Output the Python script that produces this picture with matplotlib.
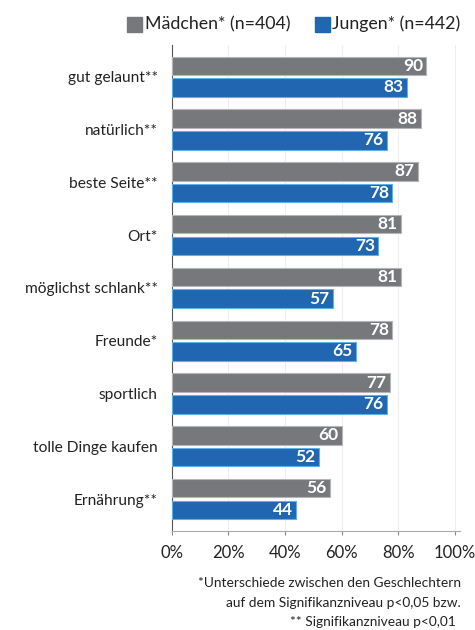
import matplotlib.pyplot as plt
import numpy as np

plt.rcParams['font.family'] = ['Lato', 'DejaVu Sans']

categories = ['gut gelaunt**', 'natürlich**', 'beste Seite**', 'Ort*', 'möglichst schlank**',
              'Freunde*', 'sportlich', 'tolle Dinge kaufen', 'Ernährung**']
maedchen = [90, 88, 87, 81, 81, 78, 77, 60, 56]
jungen = [83, 76, 78, 73, 57, 65, 76, 52, 44]
xticks = [0, 20, 40, 60, 80, 100]

grey = '#77787b'
blue = '#2166b0'

fig = plt.figure(figsize=(4.75, 6.3), dpi=100)
ax = fig.add_axes([0.3615, 0.1576, 0.6065, 0.771])

y = np.arange(len(categories))
h = 0.35
off = 0.205
ax.barh(y - off, maedchen, height=h, color=grey, edgecolor='#b5b6b8', linewidth=0.8, zorder=3)
ax.barh(y + off, jungen, height=h, color=blue, edgecolor='#5fb0e6', linewidth=0.8, zorder=3)

for yi, v in zip(y, maedchen):
    ax.text(v - 1.2, yi - off, str(v), color='white', fontweight='bold', fontsize=12.5,
            ha='right', va='center', zorder=4)
for yi, v in zip(y, jungen):
    ax.text(v - 1.2, yi + off, str(v), color='white', fontweight='bold', fontsize=12.5,
            ha='right', va='center', zorder=4)

ax.set_xlim(0, 101.8)
ax.set_ylim(8.6, -0.6)
ax.set_yticks(y)
ax.set_yticklabels(categories, fontsize=11.2, color='#222222')
ax.set_xticks(xticks)
ax.set_xticklabels([f'{t}%' for t in xticks], fontsize=12, color='#222222')
ax.tick_params(axis='y', length=0, pad=10)
ax.tick_params(axis='x', length=3, color='#888888', pad=7)
ax.grid(axis='x', color='#eeeeee', linewidth=0.8, zorder=0)
for s in ['top', 'right']:
    ax.spines[s].set_visible(False)
ax.spines['left'].set_color('#555555')
ax.spines['bottom'].set_color('#aaaaaa')

# legend
fig.patches.append(plt.Rectangle((127 / 475, 1 - 32 / 630), 15 / 475, 15 / 630,
                                 transform=fig.transFigure, color=grey))
fig.text(145 / 475, 1 - 24 / 630, 'Mädchen* (n=404)', fontsize=12.8, va='center', color='#222222')
fig.patches.append(plt.Rectangle((315 / 475, 1 - 32 / 630), 15 / 475, 15 / 630,
                                 transform=fig.transFigure, color=blue))
fig.text(332 / 475, 1 - 24 / 630, 'Jungen* (n=442)', fontsize=12.8, va='center', color='#222222')

# footnote
fig.text(461 / 475, 1 - 583 / 630, '*Unterschiede zwischen den Geschlechtern', fontsize=9.9,
         ha='right', va='center', color='#222222')
fig.text(461 / 475, 1 - 603 / 630, 'auf dem Signifikanzniveau p<0,05 bzw.', fontsize=9.9,
         ha='right', va='center', color='#222222')
fig.text(456 / 475, 1 - 622 / 630, '** Signifikanzniveau p<0,01', fontsize=9.9,
         ha='right', va='center', color='#222222')

fig.savefig('out.png', dpi=100)
